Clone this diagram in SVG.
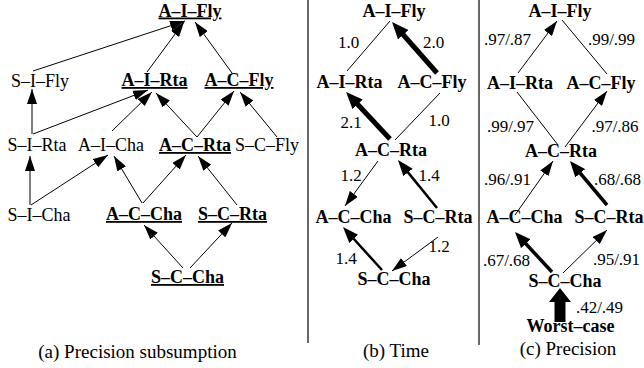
<svg xmlns="http://www.w3.org/2000/svg" width="644" height="368" viewBox="0 0 644 368">
<style>
text{font-family:"Liberation Serif","Times New Roman",serif;fill:#000;text-anchor:middle}
.n{font-size:18px}
.b{font-weight:bold}
.u{text-decoration:underline}
.cap{font-size:19px}
.lbl{font-size:17px}
.e{stroke:#000;fill:none;stroke-width:1}
.t{marker-end:url(#ah)}
.thk{stroke-width:5;marker-end:url(#ahT)}
.med{stroke-width:2.5;marker-end:url(#ahM)}
.thc{stroke-width:3.5;marker-end:url(#ahC)}
.div{stroke:#000;stroke-width:1.2}
</style>
<defs>
<marker id="ah" markerUnits="userSpaceOnUse" markerWidth="15" markerHeight="10" refX="15" refY="5" orient="auto"><path d="M0,0 L15,5 L0,10 Z" fill="#000"/></marker>
<marker id="ahT" markerUnits="userSpaceOnUse" markerWidth="17" markerHeight="14" refX="9" refY="7" orient="auto"><path d="M0,0 L17,7 L0,14 Z" fill="#000"/></marker>
<marker id="ahM" markerUnits="userSpaceOnUse" markerWidth="16" markerHeight="12" refX="12" refY="6" orient="auto"><path d="M0,0 L16,6 L0,12 Z" fill="#000"/></marker>
<marker id="ahC" markerUnits="userSpaceOnUse" markerWidth="16" markerHeight="13" refX="11" refY="6.5" orient="auto"><path d="M0,0 L16,6.5 L0,13 Z" fill="#000"/></marker>
</defs>

<g id="dividers">
<line class="div" x1="308" y1="0" x2="308" y2="343"/>
<line class="div" x1="479" y1="0" x2="479" y2="345"/>
</g>

<g id="connectors">
<!-- panel a -->
<line class="e t" x1="33" y1="71" x2="185" y2="21"/>
<line class="e t" x1="147" y1="72" x2="184" y2="22"/>
<line class="e t" x1="232" y1="73" x2="195" y2="22"/>
<line class="e t" x1="32" y1="134" x2="32" y2="89"/>
<line class="e t" x1="33" y1="134" x2="148" y2="90"/>
<line class="e t" x1="112" y1="131" x2="152" y2="92"/>
<line class="e t" x1="197" y1="137" x2="156" y2="93"/>
<line class="e t" x1="197" y1="137" x2="234" y2="91"/>
<line class="e t" x1="277" y1="137" x2="240" y2="92"/>
<line class="e t" x1="30" y1="205" x2="30" y2="156"/>
<line class="e t" x1="31" y1="205" x2="108" y2="155"/>
<line class="e t" x1="142" y1="203" x2="114" y2="156"/>
<line class="e t" x1="143" y1="203" x2="186" y2="155"/>
<line class="e t" x1="237" y1="205" x2="198" y2="156"/>
<line class="e t" x1="183" y1="268" x2="144" y2="225"/>
<line class="e t" x1="190" y1="268" x2="232" y2="223"/>
<!-- panel b -->
<line class="e" x1="347" y1="71" x2="390" y2="21"/>
<line class="e thk" x1="437" y1="73" x2="397.3" y2="28"/>
<line class="e thk" x1="390" y1="139" x2="351.5" y2="97.8"/>
<line class="e" x1="395" y1="140" x2="440" y2="93"/>
<line class="e t" x1="378" y1="161" x2="345" y2="206"/>
<line class="e med" x1="437" y1="208" x2="400.5" y2="163.1"/>
<line class="e med" x1="382" y1="270" x2="345.7" y2="230"/>
<line class="e t" x1="438" y1="237" x2="392" y2="271"/>
<!-- panel c -->
<line class="e t" x1="518" y1="73" x2="557" y2="21"/>
<line class="e" x1="607" y1="74" x2="562" y2="20"/>
<line class="e" x1="558" y1="145" x2="517" y2="92"/>
<line class="e t" x1="565" y1="147" x2="607" y2="91"/>
<line class="e t" x1="515" y1="215" x2="553" y2="161"/>
<line class="e thc" x1="607" y1="205" x2="573.2" y2="164.8"/>
<line class="e thc" x1="552" y1="272" x2="518.4" y2="235.7"/>
<line class="e t" x1="563" y1="273" x2="607" y2="230"/>
<path d="M554.5,322 L554.5,302 L549,302 L560,288 L571,302 L565.5,302 L565.5,322 Z" fill="#000"/>
</g>

<g id="edge-labels">
<text class="lbl" x="348.5" y="48">1.0</text>
<text class="lbl" x="433.5" y="48">2.0</text>
<text class="lbl" x="351" y="128">2.1</text>
<text class="lbl" x="439" y="126">1.0</text>
<text class="lbl" x="351" y="181">1.2</text>
<text class="lbl" x="429" y="181">1.4</text>
<text class="lbl" x="346" y="264">1.4</text>
<text class="lbl" x="439" y="252">1.2</text>
<text class="lbl" x="507.5" y="45">.97/.87</text>
<text class="lbl" x="611.5" y="45">.99/.99</text>
<text class="lbl" x="510.5" y="132">.99/.97</text>
<text class="lbl" x="615" y="132">.97/.86</text>
<text class="lbl" x="507.5" y="185">.96/.91</text>
<text class="lbl" x="617.5" y="185">.68/.68</text>
<text class="lbl" x="506.5" y="266">.67/.68</text>
<text class="lbl" x="616.5" y="265">.95/.91</text>
<text class="lbl" x="599.5" y="313">.42/.49</text>
</g>

<!-- panel a nodes -->
<g id="a-AIFly"><text class="n b u" x="190" y="16.5">A–I–Fly</text></g>
<g id="a-SIFly"><text class="n" x="40" y="87">S–I–Fly</text></g>
<g id="a-AIRta"><text class="n b u" x="154.5" y="86">A–I–Rta</text></g>
<g id="a-ACFly"><text class="n b u" x="239" y="86">A–C–Fly</text></g>
<g id="a-SIRta"><text class="n" x="37" y="151">S–I–Rta</text></g>
<g id="a-AICha"><text class="n" x="111" y="151">A–I–Cha</text></g>
<g id="a-ACRta"><text class="n b u" x="195" y="151">A–C–Rta</text></g>
<g id="a-SCFly"><text class="n" x="267" y="151">S–C–Fly</text></g>
<g id="a-SICha"><text class="n" x="39" y="221">S–I–Cha</text></g>
<g id="a-ACCha"><text class="n b u" x="144" y="220">A–C–Cha</text></g>
<g id="a-SCRta"><text class="n b u" x="232.5" y="220">S–C–Rta</text></g>
<g id="a-SCCha"><text class="n b u" x="187.5" y="283">S–C–Cha</text></g>
<g id="a-caption"><text class="cap" x="137.5" y="358">(a) Precision subsumption</text></g>

<!-- panel b nodes -->
<g id="b-AIFly"><text class="n b" x="394" y="17">A–I–Fly</text></g>
<g id="b-AIRta"><text class="n b" x="349.5" y="88">A–I–Rta</text></g>
<g id="b-ACFly"><text class="n b" x="432" y="88">A–C–Fly</text></g>
<g id="b-ACRta"><text class="n b" x="391" y="156">A–C–Rta</text></g>
<g id="b-ACCha"><text class="n b" x="353.5" y="223">A–C–Cha</text></g>
<g id="b-SCRta"><text class="n b" x="438" y="223">S–C–Rta</text></g>
<g id="b-SCCha"><text class="n b" x="394" y="285">S–C–Cha</text></g>
<g id="b-caption"><text class="cap" x="396" y="357">(b) Time</text></g>

<!-- panel c nodes -->
<g id="c-AIFly"><text class="n b" x="560" y="17">A–I–Fly</text></g>
<g id="c-AIRta"><text class="n b" x="520" y="89">A–I–Rta</text></g>
<g id="c-ACFly"><text class="n b" x="601" y="89">A–C–Fly</text></g>
<g id="c-ACRta"><text class="n b" x="561" y="157">A–C–Rta</text></g>
<g id="c-ACCha"><text class="n b" x="524.5" y="223">A–C–Cha</text></g>
<g id="c-SCRta"><text class="n b" x="609" y="223">S–C–Rta</text></g>
<g id="c-SCCha"><text class="n b" x="565" y="287">S–C–Cha</text></g>
<g id="c-Worst"><text class="n b" x="570.5" y="332">Worst–case</text></g>
<g id="c-caption"><text class="cap" x="568" y="355">(c) Precision</text></g>
</svg>
